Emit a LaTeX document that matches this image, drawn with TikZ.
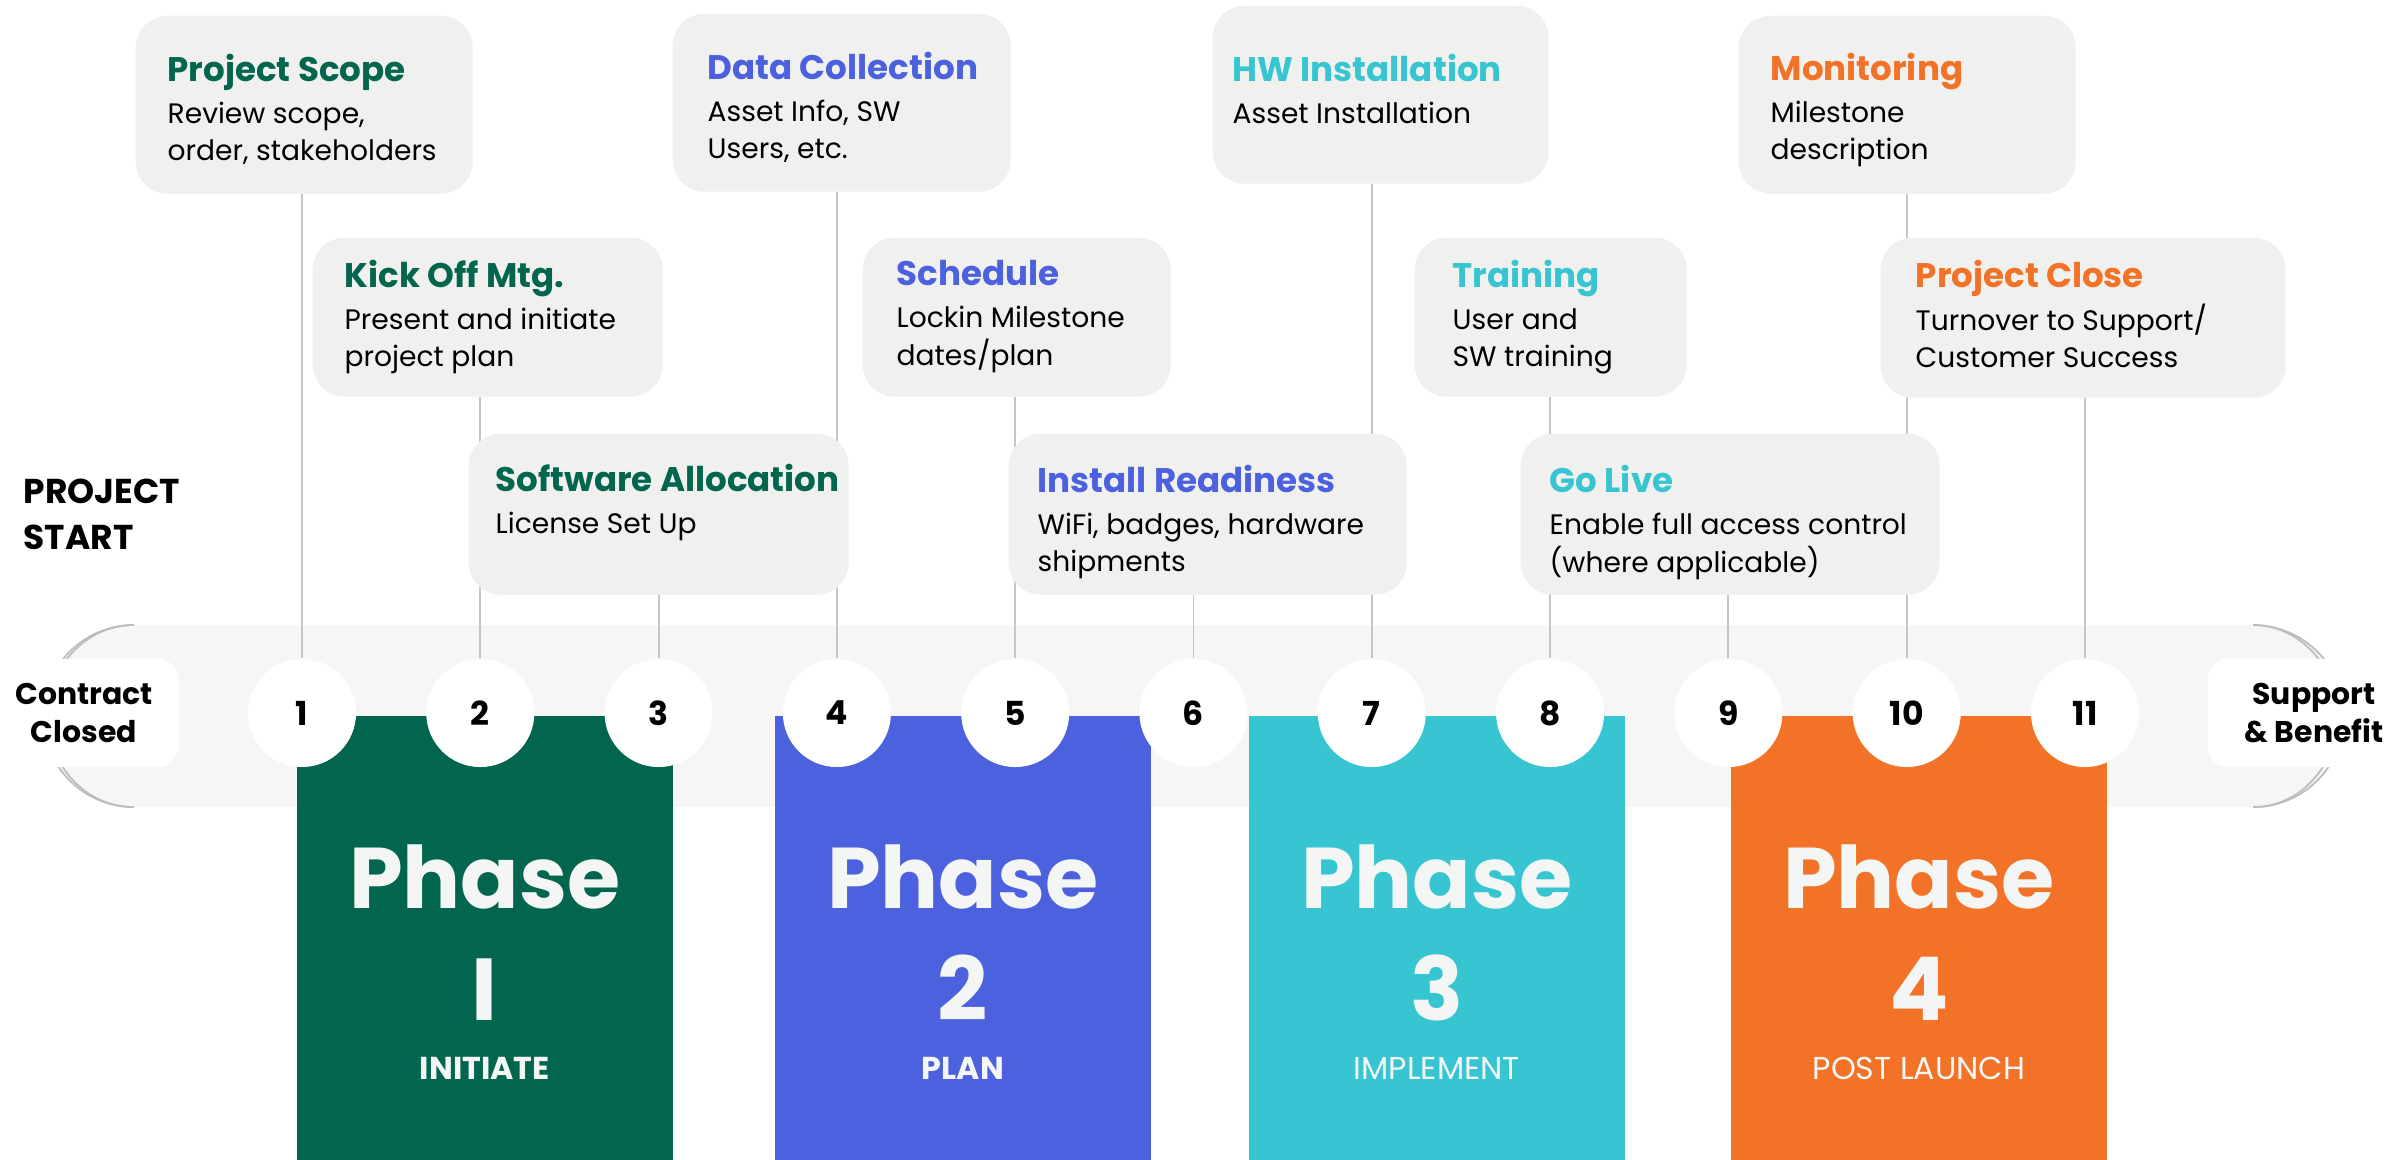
\documentclass[tikz,border=0pt]{standalone}
\usepackage{fontspec}
\setmainfont{Poppins}
\usetikzlibrary{positioning}
\definecolor{initgreen}{HTML}{02664F}
\definecolor{planblue}{HTML}{4B61DE}
\definecolor{implcyan}{HTML}{37C6D1}
\definecolor{postorange}{HTML}{F27327}
\definecolor{cardgray}{HTML}{F0F0EF}
\definecolor{bandgray}{HTML}{F7F6F4}
\definecolor{linkgray}{HTML}{C6C6C6}
\definecolor{arcgray}{HTML}{BDBDBD}
\definecolor{phasewhite}{HTML}{F4F6F6}
\newcommand{\bodyfont}{\fontsize{8}{10.4}\selectfont}
\newcommand{\titlefont}{\fontsize{9.7}{12}\selectfont\bfseries}
\pgfdeclarelayer{band}
\pgfdeclarelayer{links}
\pgfsetlayers{band,links,main}

\begin{document}
\begin{tikzpicture}[
					x=0.01cm, y=-0.01cm,
					card/.style={fill=cardgray,rounded corners=0.32cm,anchor=north west,inner sep=0pt},
					mstone/.style={circle,fill=white,minimum size=1.08cm,inner sep=0pt,font=\fontsize{9.4}{11}\selectfont\bfseries},
					endcap/.style={fill=white,rounded corners=0.2cm,minimum height=1.08cm,align=center,font=\fontsize{8.5}{10.8}\selectfont\bfseries},
					link/.style={draw=linkgray,line width=0.55pt},
					arcline/.style={draw=arcgray,line width=0.5pt},
					phasebox/.style={anchor=north west,minimum width=3.76cm,minimum height=4.44cm,inner sep=0pt},
					phasetxt/.style={text=phasewhite,anchor=base,inner sep=0pt}
					]
					\useasboundingbox (0,0) rectangle (2405,1159);
					% timeline band with its rounded ends
					\begin{pgfonlayer}{band}
						\fill[bandgray,rounded corners=0.91cm] (43,625) rectangle (2344,807);
						\draw[arcline] (134,625) arc[start angle=90,end angle=270,radius=0.91cm];
						\draw[arcline] (134,625) arc[start angle=90,end angle=270,x radius=0.86cm,y radius=0.91cm];
						\draw[arcline] (2253,625) arc[start angle=90,end angle=-90,radius=0.91cm];
						\draw[arcline] (2253,625) arc[start angle=90,end angle=-90,x radius=0.84cm,y radius=0.91cm];
					\end{pgfonlayer}
					\node[endcap,minimum width=1.88cm] (cc) at (84,713) {Contract\\Closed};
					\node[endcap,minimum width=2.12cm] (sb) at (2314,713) {Support\\\& Benefit};
					\node[anchor=base west,inner sep=0pt,font=\fontsize{9.8}{13.1}\selectfont\bfseries] (start) at (23,503) {\begin{tabular}[t]{@{}l@{}}PROJECT\\START\end{tabular}};
					% phases
					\foreach \i/\x/\col/\num/\lab/\wt in {1/296/initgreen/I/INITIATE/\bfseries,2/774/planblue/2/PLAN/\bfseries,3/1248/implcyan/3/IMPLEMENT/\mdseries,4/1730/postorange/4/POST LAUNCH/\mdseries}{
						\node[phasebox,fill=\col] (p\i) at (\x,715) {};
						\node[phasetxt,font=\fontsize{24.5}{28}\selectfont\bfseries] at ([yshift=-1.93cm]p\i.north) {Phase};
						\node[phasetxt,font=\fontsize{25}{28}\selectfont\bfseries] at ([yshift=-3.05cm]p\i.north) {\num};
						\node[phasetxt,font=\fontsize{9}{10}\selectfont\wt] at ([yshift=-3.64cm]p\i.north) {\lab};
					}
					% milestones
					\foreach \k in {1,...,11}{
						\node[mstone] (m\k) at ({302+(\k-1)*178.3},713) {\k};
					}
					% callout cards
					\foreach \n/\bx/\by/\w/\h/\tx/\ty/\col/\ttl/\txt in {
						ps/135/15/337/178/167/81/initgreen/{Project Scope}/{Review scope,\\order, stakeholders},
						ko/312/237/350/159/344/287/initgreen/{Kick Off Mtg.}/{Present and initiate\\project plan},
						sa/468/433/380/161/495/491/initgreen/{Software Allocation}/{License Set Up},
						dc/672/13/338/178/707/79/planblue/{Data Collection}/{Asset Info, SW\\Users, etc.},
						sc/862/237/308/159/896/285/planblue/{Schedule}/{Lockin Milestone\\dates/plan},
						ir/1008/433/398/161/1037/492/planblue/{Install Readiness}/{WiFi, badges, hardware\\shipments},
						hw/1212/5/336/178/1232/81/implcyan/{HW Installation}/{Asset Installation},
						tr/1414/237/272/159/1452/287/implcyan/{Training}/{User and\\SW training},
						gl/1520/433/419/161/1549/492/implcyan/{Go Live}/{Enable full access control\\(where applicable)},
						mo/1738/15/337/178/1770/80/postorange/{Monitoring}/{Milestone\\description},
						pc/1880/237/405/160/1915/287/postorange/{Project Close}/{Turnover to Support/\\Customer Success}}{
						\node[card,minimum width=\w*0.01cm,minimum height=\h*0.01cm] (\n) at (\bx,\by) {};
						\node[anchor=base west,inner sep=0pt,font=\bodyfont] (\n-text) at (\tx,\ty) {\begin{tabular}[t]{@{}l@{}}{\titlefont\color{\col}\ttl}\\[1.8pt]\txt\end{tabular}};
					}
					\begin{pgfonlayer}{links}
						\foreach \n/\k in {ps/1,ko/2,sa/3,dc/4,sc/5,ir/6,hw/7,tr/8,gl/9,mo/10,pc/11}{
							\draw[link] (\n.south -| m\k) -- (m\k.north);
						}
					\end{pgfonlayer}
				\end{tikzpicture}
\end{document}
